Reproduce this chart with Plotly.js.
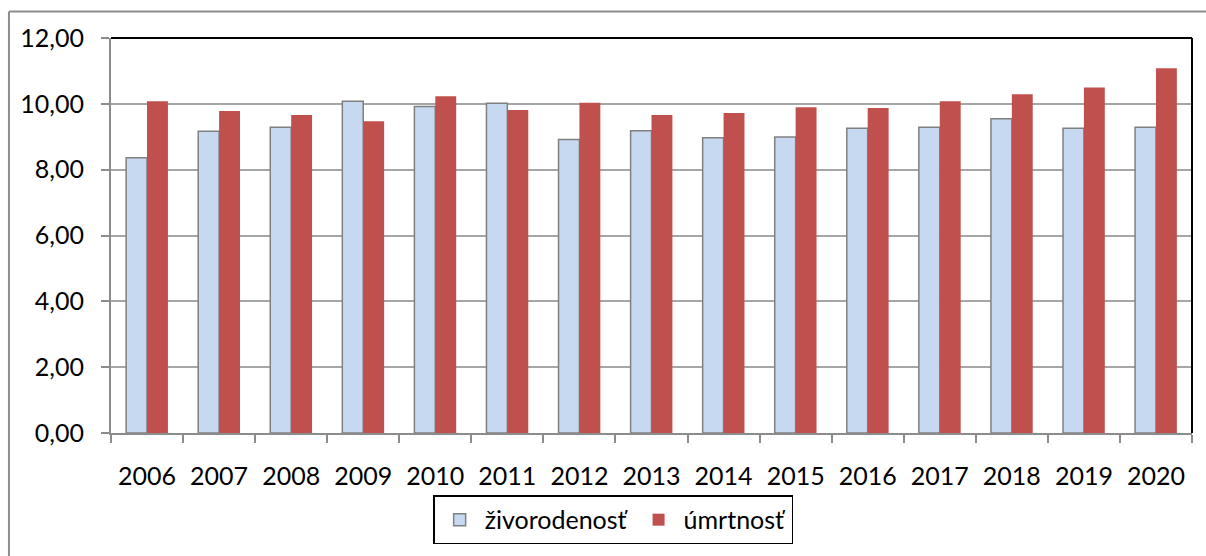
<!DOCTYPE html>
<html>
<head>
<meta charset="utf-8">
<script src="https://cdn.plot.ly/plotly-3.0.1.min.js"></script>
<style>
  html, body { margin: 0; padding: 0; background: #fff; }
  #graph { width: 1206px; height: 556px; }
</style>
</head>
<body>
<div id="graph"></div>
<script>
const years = ['2006', '2007', '2008', '2009', '2010', '2011', '2012', '2013',
               '2014', '2015', '2016', '2017', '2018', '2019', '2020'];
const zivorodenost = [8.36, 9.17, 9.29, 10.08, 9.92, 10.02, 8.92, 9.18,
                      8.97, 8.99, 9.26, 9.29, 9.55, 9.26, 9.29];
const umrtnost = [10.08, 9.78, 9.66, 9.47, 10.23, 9.81, 10.03, 9.66,
                  9.72, 9.90, 9.87, 10.08, 10.29, 10.50, 11.08];

var births = {
    x: years,
    y: zivorodenost,
    name: 'živorodenosť',
    type: 'bar',
    marker: {color: '#C6D9F1', line: {color: '#808080', width: 1.5}}
};

var deaths = {
    x: years,
    y: umrtnost,
    name: 'úmrtnosť',
    type: 'bar',
    marker: {color: '#C0504D', line: {width: 0}}
};

var layout = {
    width: 1206,
    height: 556,
    margin: {l: 111, r: 14, t: 38, b: 119},
    paper_bgcolor: '#fff',
    plot_bgcolor: '#fff',
    font: {family: 'Lato, "Open Sans", sans-serif', size: 25, color: '#000'},
    separators: ',.',
    barmode: 'group',
    bargap: 0.42,
    bargroupgap: 0,
    showlegend: true,
    legend: {
        orientation: 'h',
        x: 0.298, xanchor: 'left',
        y: -0.158, yanchor: 'top',
        bordercolor: '#000', borderwidth: 1.5,
        font: {size: 25},
        itemwidth: 40,
        traceorder: 'normal'
    },
    xaxis: {
        type: 'category',
        tickson: 'boundaries',
        ticks: 'outside', ticklen: 8, tickwidth: 2, tickcolor: '#8c8c8c',
        showline: true, linecolor: '#8c8c8c', linewidth: 2,
        showgrid: false,
        ticklabelstandoff: 20
    },
    yaxis: {
        range: [0, 12], dtick: 2, tickformat: '.2f',
        ticks: 'outside', ticklen: 8, tickwidth: 2, tickcolor: '#8c8c8c',
        showline: true, linecolor: '#8c8c8c', linewidth: 2,
        gridcolor: '#a6a6a6', gridwidth: 2,
        zeroline: false,
        ticklabelstandoff: 12
    },
    shapes: [
        // black frame on top and right of the plot area
        {type: 'line', xref: 'paper', yref: 'paper', x0: 0, x1: 1, y0: 1, y1: 1,
         line: {color: '#000', width: 2}},
        {type: 'line', xref: 'paper', yref: 'paper', x0: 1, x1: 1, y0: 0, y1: 1,
         line: {color: '#000', width: 2}},
        // outer chart border (top and left edges visible)
        {type: 'line', xref: 'paper', yref: 'paper', x0: -0.0944, x1: 1.03, y0: 1.067, y1: 1.067,
         line: {color: '#8c8c8c', width: 2}},
        {type: 'line', xref: 'paper', yref: 'paper', x0: -0.0944, x1: -0.0944, y0: -0.33, y1: 1.067,
         line: {color: '#8c8c8c', width: 2}}
    ]
};

Plotly.newPlot('graph', [births, deaths], layout, {displayModeBar: false});
</script>
</body>
</html>
